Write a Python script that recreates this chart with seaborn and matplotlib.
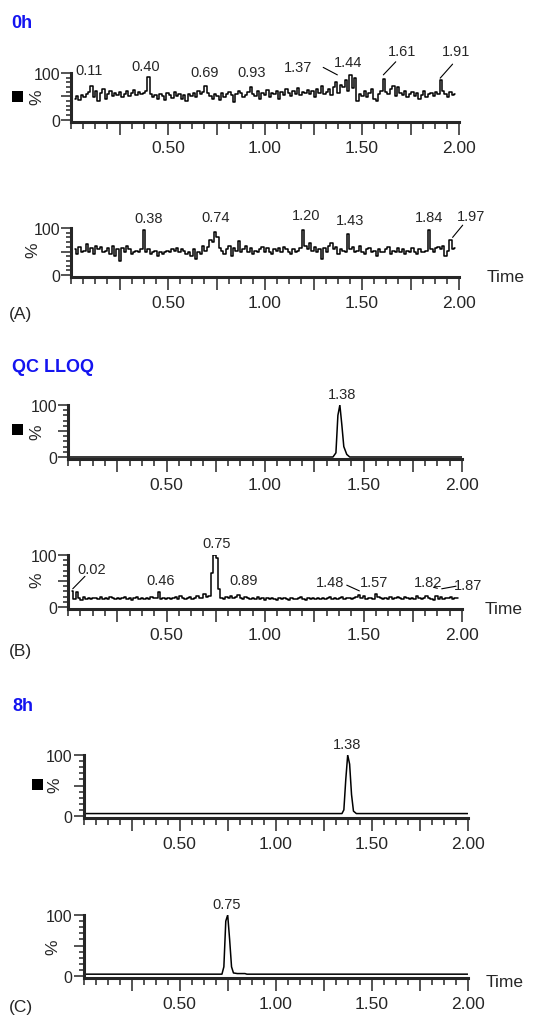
import numpy as np
import matplotlib
matplotlib.use('Agg')
import matplotlib.pyplot as plt
import seaborn as sns
from matplotlib.patches import Rectangle
from matplotlib.ticker import MultipleLocator

# ---------------- data ----------------
# 0h, upper trace (% intensity, sampled evenly from 0.02 to 1.98 min)
blank_top = [45, 50, 42, 52, 48, 55, 60, 72, 48, 62,
             40, 58, 66, 45, 55, 62, 50, 58, 52, 60,
             48, 55, 62, 50, 57, 63, 52, 60, 55, 58,
             62, 92, 55, 48, 52, 44, 55, 50, 42, 58,
             52, 46, 60, 50, 55, 45, 52, 40, 55, 50,
             58, 48, 62, 55, 60, 72, 58, 50, 45, 55,
             50, 42, 58, 48, 55, 60, 52, 38, 55, 62,
             58, 48, 52, 60, 70, 55, 50, 62, 45, 58,
             52, 64, 48, 58, 55, 62, 45, 60, 52, 66,
             58, 50, 62, 55, 68, 52, 60, 58, 64, 55,
             62, 48, 66, 58, 72, 55, 60, 65, 52, 70,
             80, 58, 75, 70, 85, 62, 95, 68, 90, 40,
             55, 50, 62, 48, 58, 65, 45, 40, 55, 62,
             88, 60, 55, 65, 72, 50, 70, 58, 52, 62,
             48, 55, 60, 50, 58, 45, 52, 62, 48, 55,
             58, 50, 60, 55, 85, 62, 55, 48, 60, 52, 55]
# 0h, lower trace
blank_bot = [55, 45, 60, 48, 52, 65, 50, 58, 45, 62,
             55, 60, 48, 52, 58, 45, 62, 40, 55, 30,
             58, 50, 62, 55, 45, 50, 52, 48, 55, 95,
             50, 55, 45, 48, 52, 40, 48, 45, 50, 52,
             48, 55, 52, 58, 50, 56, 52, 45, 48, 40,
             55, 35, 50, 45, 62, 52, 60, 75, 70, 92,
             80, 58, 52, 45, 55, 62, 40, 58, 52, 72,
             48, 55, 62, 50, 58, 45, 52, 48, 55, 60,
             50, 58, 48, 45, 55, 52, 58, 48, 60, 55,
             50, 45, 55, 48, 52, 58, 95, 62, 55, 68,
             52, 60, 48, 55, 35, 58, 50, 62, 68, 55,
             60, 45, 55, 52, 48, 88, 55, 60, 48, 52,
             62, 50, 45, 55, 58, 48, 52, 40, 55, 50,
             48, 55, 60, 45, 52, 48, 58, 50, 55, 45,
             52, 48, 58, 50, 45, 55, 48, 50, 52, 95,
             55, 50, 58, 60, 55, 62, 40, 52, 75, 55, 58]
# QC LLOQ, lower trace
qc_bot = [30, 15, 28, 18, 14, 20, 16, 18, 15, 17,
          18, 15, 19, 16, 18, 15, 20, 17, 16, 18,
          15, 17, 19, 16, 18, 14, 17, 19, 16, 18,
          15, 18, 16, 20, 17, 18, 28, 15, 17, 16,
          18, 15, 17, 19, 16, 22, 18, 15, 17, 20,
          16, 18, 22, 17, 18, 25, 20, 22, 65, 100,
          95, 35, 18, 16, 20, 18, 22, 17, 19, 24,
          18, 16, 20, 17, 15, 18, 16, 19, 15, 17,
          13, 18, 15, 17, 16, 14, 18, 15, 17, 16,
          14, 18, 16, 15, 17, 19, 16, 14, 17, 16,
          18, 15, 17, 16, 18, 15, 17, 19, 16, 18,
          15, 17, 19, 16, 18, 17, 15, 18, 20, 24,
          18, 22, 15, 17, 18, 16, 25, 19, 17, 15,
          18, 16, 19, 15, 18, 20, 17, 16, 19, 18,
          15, 18, 16, 22, 17, 15, 18, 22, 17, 16,
          14, 22, 16, 19, 15, 18, 17, 19, 16, 18, 17]
# QC LLOQ, upper trace (analyte peak)
qc_top_t = [0.0, 1.345, 1.36, 1.37, 1.38, 1.39, 1.40, 1.415, 1.43, 2.0]
qc_top_v = [0, 0, 8, 80, 100, 62, 20, 5, 0, 0]
# 8h, upper trace
h8_top_t = [0.0, 1.345, 1.355, 1.365, 1.375, 1.385, 1.395, 1.405, 1.42, 2.0]
h8_top_v = [4, 4, 10, 60, 100, 85, 35, 8, 4, 4]
# 8h, lower trace
h8_bot_t = [0.0, 0.72, 0.73, 0.74, 0.75, 0.76, 0.77, 0.78, 0.80, 0.84, 0.85, 2.0]
h8_bot_v = [3, 3, 15, 90, 100, 60, 15, 5, 4, 4, 3, 3]

# peak labels: (text, x, y)
lab_p1 = [("0.11", 0.095, 107), ("0.40", 0.387, 116), ("0.69", 0.689, 103),
          ("0.93", 0.931, 103), ("1.37", 1.17, 112), ("1.44", 1.43, 124),
          ("1.61", 1.708, 148), ("1.91", 1.984, 148)]
lab_p2 = [("0.38", 0.40, 121), ("0.74", 0.746, 123), ("1.20", 1.212, 128),
          ("1.43", 1.44, 116), ("1.84", 1.846, 123), ("1.97", 2.06, 126)]
lab_p3 = [("1.38", 1.39, 121)]
lab_p4 = [("0.75", 0.755, 124), ("0.02", 0.12, 74), ("0.46", 0.47, 52),
          ("0.89", 0.89, 51), ("1.48", 1.33, 48), ("1.57", 1.553, 48),
          ("1.82", 1.826, 48), ("1.87", 2.03, 42)]
lab_p5 = [("1.38", 1.37, 118)]
lab_p6 = [("0.75", 0.746, 118)]

# leader lines: (x1, y1, x2, y2)
lead_p1 = [(1.30, 112, 1.373, 96), (1.674, 124, 1.61, 96), (1.967, 119, 1.903, 89)]
lead_p2 = [(2.019, 106, 1.967, 80)]
lead_p4 = [(0.086, 59, 0.024, 35), (1.415, 42, 1.479, 31), (1.97, 40, 1.897, 35),
           (1.855, 38, 1.875, 36)]

xtick_pos = [0.25, 0.5, 0.75, 1.0, 1.25, 1.5, 1.75, 2.0]
xtick_lab = ["", "0.50", "", "1.00", "", "1.50", "", "2.00"]
ytick_pos = [0, 50, 100]
ytick_lab = ["0", "", "100"]

# ---------------- figure ----------------
sns.set_style('ticks')
plt.rcParams['font.family'] = ['Liberation Sans', 'DejaVu Sans']

W, H = 554, 1020
fig = plt.figure(figsize=(W / 100, H / 100), dpi=100)


def make_ax(x0, x2, y100, y0):
    bottom_px = y0 + 0.04 * (y0 - y100)
    ax = fig.add_axes([x0 / W, 1 - bottom_px / H, (x2 - x0) / W, (bottom_px - y100) / H])
    ax.set_xlim(0, 2.0)
    ax.set_ylim(-4, 100)
    for s in ['top', 'right']:
        ax.spines[s].set_visible(False)
    for s in ['left', 'bottom']:
        ax.spines[s].set_linewidth(2.2)
    ax.set_xticks(xtick_pos)
    ax.set_xticklabels(xtick_lab)
    ax.xaxis.set_minor_locator(MultipleLocator(0.0625))
    ax.set_yticks(ytick_pos)
    ax.set_yticklabels(ytick_lab)
    ax.yaxis.set_minor_locator(MultipleLocator(10))
    ax.tick_params(axis='x', which='major', length=9, width=1.1, labelsize=12.5, pad=4)
    ax.tick_params(axis='x', which='minor', length=5, width=1.1)
    ax.tick_params(axis='y', which='major', length=7, width=1.1, labelsize=11.5, pad=1)
    ax.tick_params(axis='y', which='minor', length=3.5, width=1.1)
    ax.set_xlabel("")
    ax.set_ylabel("")
    ax.patch.set_alpha(0)
    return ax


def trace(ax, t, v, steps=False):
    kw = dict(drawstyle='steps-mid') if steps else {}
    sns.lineplot(x=t, y=v, ax=ax, color='black', linewidth=1.1, sort=False,
                 estimator=None, **kw)


def labels(ax, labs, leads=()):
    for s, x, y in labs:
        ax.text(x, y, s, ha='center', va='center', fontsize=10.5, clip_on=False)
    for x1, y1, x2, y2 in leads:
        ax.plot([x1, x2], [y1, y2], color='black', linewidth=0.8, clip_on=False)


ax1 = make_ax(71, 459, 74, 120.7)
trace(ax1, np.linspace(0.02, 1.98, len(blank_top)), blank_top, steps=True)
labels(ax1, lab_p1, lead_p1)

ax2 = make_ax(71, 459, 229, 276)
trace(ax2, np.linspace(0.02, 1.98, len(blank_bot)), blank_bot, steps=True)
labels(ax2, lab_p2, lead_p2)

ax3 = make_ax(68, 462, 406, 458)
trace(ax3, qc_top_t, qc_top_v)
labels(ax3, lab_p3)

ax4 = make_ax(68, 462, 556, 608)
trace(ax4, np.linspace(0.02, 1.98, len(qc_bot)), qc_bot, steps=True)
labels(ax4, lab_p4, lead_p4)

ax5 = make_ax(83.7, 467.7, 756, 817)
trace(ax5, h8_top_t, h8_top_v)
labels(ax5, lab_p5)

ax6 = make_ax(83.7, 467.7, 916, 977)
trace(ax6, h8_bot_t, h8_bot_v)
labels(ax6, lab_p6)


def ftext(x, y, s, **kw):
    fig.text(x / W, 1 - y / H, s, **kw)


blue = '#1414f0'
ftext(11, 24, "0h", color=blue, fontweight='bold', fontsize=13, va='center')
ftext(12, 368, "QC LLOQ", color=blue, fontweight='bold', fontsize=13, va='center')
ftext(12, 707, "8h", color=blue, fontweight='bold', fontsize=13, va='center')

ftext(9, 315, "(A)", fontsize=12.5, va='center')
ftext(9, 652, "(B)", fontsize=12.5, va='center')
ftext(9, 1008, "(C)", fontsize=12.5, va='center')

ftext(487, 278, "Time", fontsize=12.5, va='center')
ftext(485, 610, "Time", fontsize=12.5, va='center')
ftext(486, 983, "Time", fontsize=12.5, va='center')

for x, y in [(37, 97), (33, 250), (37, 432), (37, 580), (55, 785), (53, 947)]:
    ftext(x, y, "%", fontsize=12.5, rotation=90, ha='center', va='center')

for x, y in [(12, 92), (12, 425), (32, 780)]:
    fig.patches.append(Rectangle((x / W, 1 - (y + 11) / H), 11 / W, 11 / H,
                                 transform=fig.transFigure, facecolor='black',
                                 edgecolor='none'))

fig.savefig('out.png', dpi=100)
